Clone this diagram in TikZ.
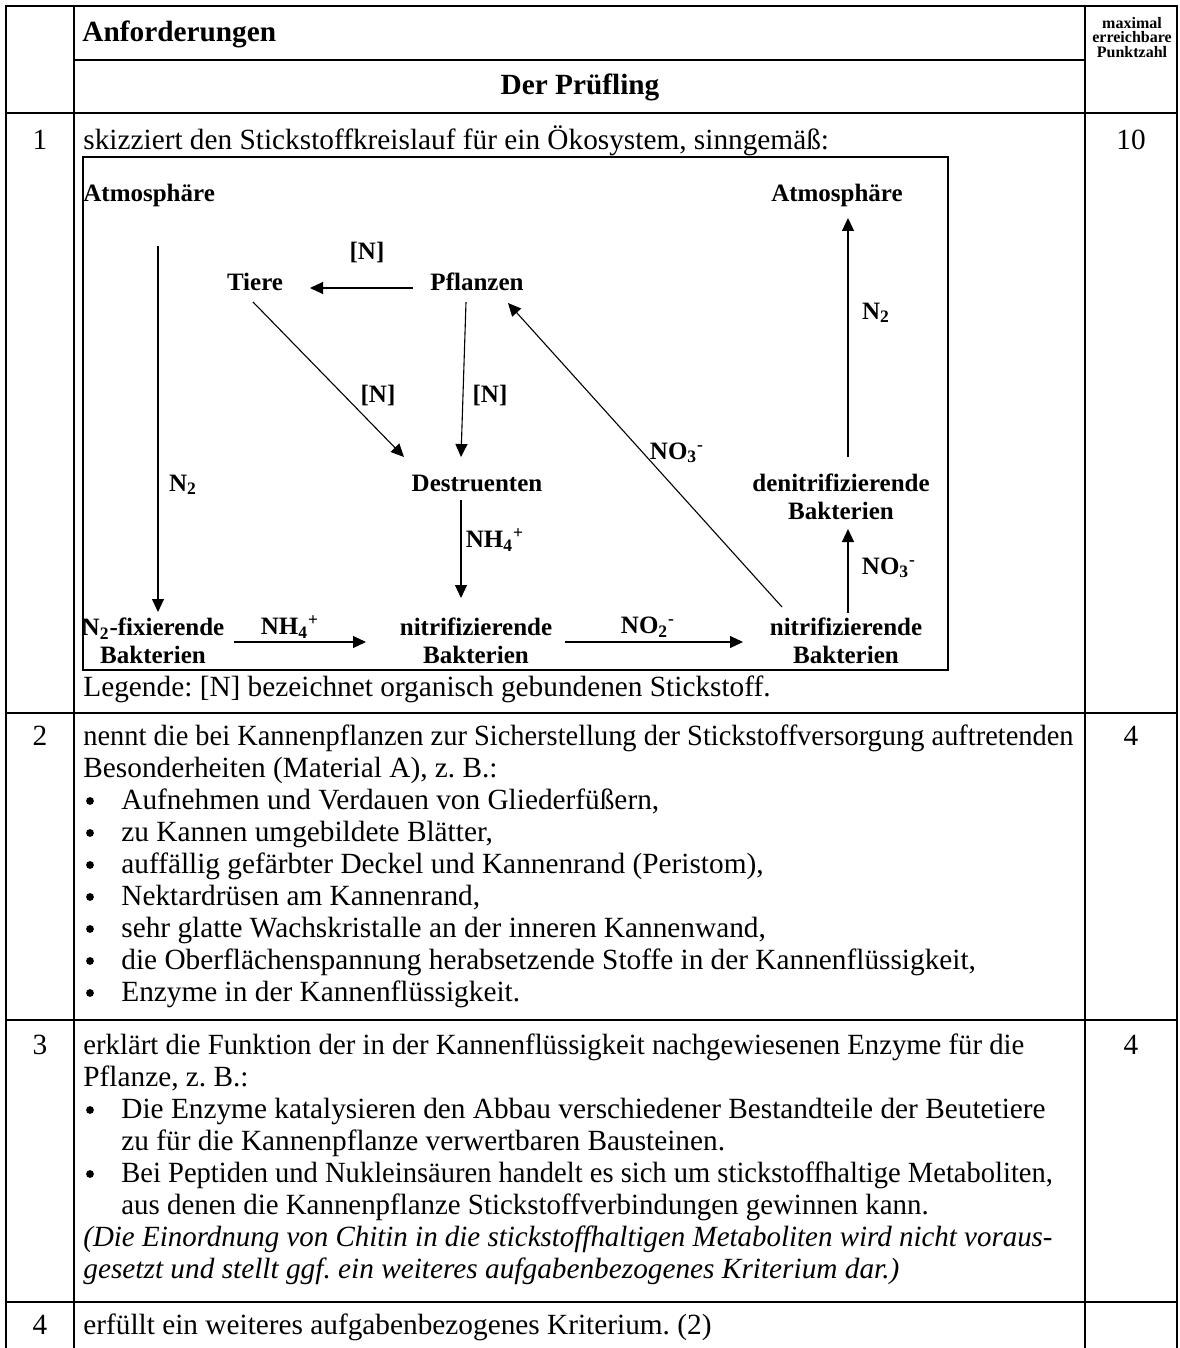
\documentclass[tikz,border=0pt]{standalone}
\usepackage{fontspec}
\usepackage{graphicx}
\setmainfont{Liberation Serif}
\usetikzlibrary{arrows.meta}
\frenchspacing
\begin{document}
\begin{tikzpicture}[x=0.5pt,y=-0.5pt,
  tline/.style={line width=1.3pt},
  dbox/.style={line width=1pt},
  arr/.style={line width=0.55pt,-{Triangle[length=6.5pt,width=6pt]}},
  lab/.style={font=\fontsize{12.5}{14}\selectfont\bfseries,inner sep=0pt,align=center},
  body/.style={font=\fontsize{14.65}{16}\selectfont\frenchspacing,inner sep=0pt,anchor=mid west},
  num/.style={font=\fontsize{14.65}{16}\selectfont,inner sep=0pt,anchor=mid},
  bul/.style={circle,fill=black,inner sep=0pt,minimum size=3.9pt,yshift=2pt},
  ital/.style={font=\fontsize{14.65}{16}\selectfont\itshape\frenchspacing,inner sep=0pt,anchor=mid west},
  head/.style={font=\fontsize{14.65}{16}\selectfont\bfseries,inner sep=0pt},
  small/.style={font=\fontsize{8}{7.2}\selectfont\bfseries,inner sep=0pt,align=center}
]
\useasboundingbox (0,0) rectangle (1179,1348);
% table lines
\draw[tline] (6,1348) -- (6,6) -- (1177,6) -- (1177,1348);
\draw[tline] (74,6) -- (74,1348);
\draw[tline] (1085,6) -- (1085,1348);
\draw[tline] (74,60) -- (1085,60);
\draw[tline] (6,113) -- (1177,113);
\draw[tline] (6,713) -- (1177,713);
\draw[tline] (6,1020) -- (1177,1020);
\draw[tline] (6,1302) -- (1177,1302);
% header
\node[head,anchor=mid west] (hA) at (82,37) {Anforderungen};
\node[head,anchor=mid] (hP) at (580,90) {Der Prüfling};
\node[small,anchor=north] (hM) at (1132,17) {maximal\\erreichbare\\Punktzahl};
% row 1
\node[num] (n1) at (40,145) {1};
\node[num] (p1) at (1131,145) {10};
\node[body] (r1) at (83,145) {skizziert den Stickstoffkreislauf für ein Ökosystem, sinngemäß:};
\draw[dbox] (83,157) rectangle (948,670);
\node[body] (leg) at (83,692) {Legende: [N] bezeichnet organisch gebundenen Stickstoff.};
% diagram nodes
\node[lab,anchor=west] (atmL) at (83,195) {Atmosphäre};
\node[lab] (atmR) at (837,195) {Atmosphäre};
\node[lab] (tiere) at (255,282) {Tiere};
\node[lab] (pfl) at (477,282) {Pflanzen};
\node[lab] (destr) at (477,483) {Destruenten};
\node[lab] (denit) at (841,497) {denitrifizierende\\Bakterien};
\node[lab] (fix) at (153,641) {N\textsubscript{2}-fixierende\\Bakterien};
\node[lab] (nitM) at (476,641) {nitrifizierende\\Bakterien};
\node[lab] (nitR) at (846,641) {nitrifizierende\\Bakterien};
% labels
\node[lab] (lN1) at (367,252) {[N]};
\node[lab] (lN2) at (378,395) {[N]};
\node[lab] (lN3) at (490,395) {[N]};
\node[lab] (lN2a) at (183,485) {N\textsubscript{2}};
\node[lab] (lNH4a) at (495,540) {NH\textsubscript{4}\textsuperscript{+}};
\node[lab] (lNH4b) at (290,627) {NH\textsubscript{4}\textsuperscript{+}};
\node[lab] (lNO2) at (648,627) {NO\textsubscript{2}\textsuperscript{-}};
\node[lab] (lNO3a) at (677,453) {NO\textsubscript{3}\textsuperscript{-}};
\node[lab] (lNO3b) at (889,568) {NO\textsubscript{3}\textsuperscript{-}};
\node[lab] (lN2b) at (876,313) {N\textsubscript{2}};
% arrow end points
\coordinate (atmLs) at (158,246); \coordinate (fixN) at (158,612);
\coordinate (fixE) at (234,642); \coordinate (nitMW) at (366,642);
\coordinate (nitME) at (565,642); \coordinate (nitRW) at (743,642);
\coordinate (destrS) at (461,500); \coordinate (nitMN) at (461,598);
\coordinate (pflS) at (466,302); \coordinate (destrN) at (461,457);
\coordinate (tiereS) at (253,302); \coordinate (destrNW) at (404,457);
\coordinate (pflW) at (413,288); \coordinate (tiereE) at (310,288);
\coordinate (nitRNW) at (782,607); \coordinate (pflSE) at (508,303);
\coordinate (nitRN) at (848,613); \coordinate (denitS) at (848,529);
\coordinate (denitN) at (848,457); \coordinate (atmRS) at (848,218);
\draw[arr] (atmLs) -- (fixN);
\draw[arr] (fixE) -- (nitMW);
\draw[arr] (nitME) -- (nitRW);
\draw[arr] (destrS) -- (nitMN);
\draw[arr] (pflS) -- (destrN);
\draw[arr] (tiereS) -- (destrNW);
\draw[arr] (pflW) -- (tiereE);
\draw[arr] (nitRNW) -- (pflSE);
\draw[arr] (nitRN) -- (denitS);
\draw[arr] (denitN) -- (atmRS);
% row 2
\node[num] (n2) at (40,741) {2};
\node[num] (p2) at (1131,741) {4};
\node[body] (r2a) at (83,741) {\scalebox{0.970}[1]{nennt die bei Kannenpflanzen zur Sicherstellung der Stickstoffversorgung auftretenden}};
\node[body] (r2b) at (83,773) {Besonderheiten (Material A), z. B.:};
\node[bul] (b21) at (90,805) {}; \node[body] (r2c) at (121,805) {Aufnehmen und Verdauen von Gliederfüßern,};
\node[bul] (b22) at (90,837) {}; \node[body] (r2d) at (121,837) {zu Kannen umgebildete Blätter,};
\node[bul] (b23) at (90,869) {}; \node[body] (r2e) at (121,869) {auffällig gefärbter Deckel und Kannenrand (Peristom),};
\node[bul] (b24) at (90,901) {}; \node[body] (r2f) at (121,901) {Nektardrüsen am Kannenrand,};
\node[bul] (b25) at (90,933) {}; \node[body] (r2g) at (121,933) {sehr glatte Wachskristalle an der inneren Kannenwand,};
\node[bul] (b26) at (90,965) {}; \node[body] (r2h) at (121,965) {die Oberflächenspannung herabsetzende Stoffe in der Kannenflüssigkeit,};
\node[bul] (b27) at (90,997) {}; \node[body] (r2i) at (121,997) {Enzyme in der Kannenflüssigkeit.};
% row 3
\node[num] (n3) at (40,1050) {3};
\node[num] (p3) at (1131,1050) {4};
\node[body] (r3a) at (83,1050) {\scalebox{0.98}[1]{erklärt die Funktion der in der Kannenflüssigkeit nachgewiesenen Enzyme für die}};
\node[body] (r3b) at (83,1082) {Pflanze, z. B.:};
\node[bul] (b31) at (90,1114) {}; \node[body] (r3c) at (121,1114) {Die Enzyme katalysieren den Abbau verschiedener Bestandteile der Beutetiere};
\node[body] (r3d) at (121,1146) {zu für die Kannenpflanze verwertbaren Bausteinen.};
\node[bul] (b32) at (90,1178) {}; \node[body] (r3e) at (121,1178) {\scalebox{0.974}[1]{Bei Peptiden und Nukleinsäuren handelt es sich um stickstoffhaltige Metaboliten,}};
\node[body] (r3f) at (121,1210) {\scalebox{0.986}[1]{aus denen die Kannenpflanze Stickstoffverbindungen gewinnen kann.}};
\node[ital] (r3g) at (83,1242) {\scalebox{0.988}[1]{(Die Einordnung von Chitin in die stickstoffhaltigen Metaboliten wird nicht voraus-}};
\node[ital] (r3h) at (83,1274) {gesetzt und stellt ggf. ein weiteres aufgabenbezogenes Kriterium dar.)};
% row 4
\node[num] (n4) at (40,1330) {4};
\node[body] (r4) at (83,1330) {erfüllt ein weiteres aufgabenbezogenes Kriterium. (2)};
\end{tikzpicture}
\end{document}
